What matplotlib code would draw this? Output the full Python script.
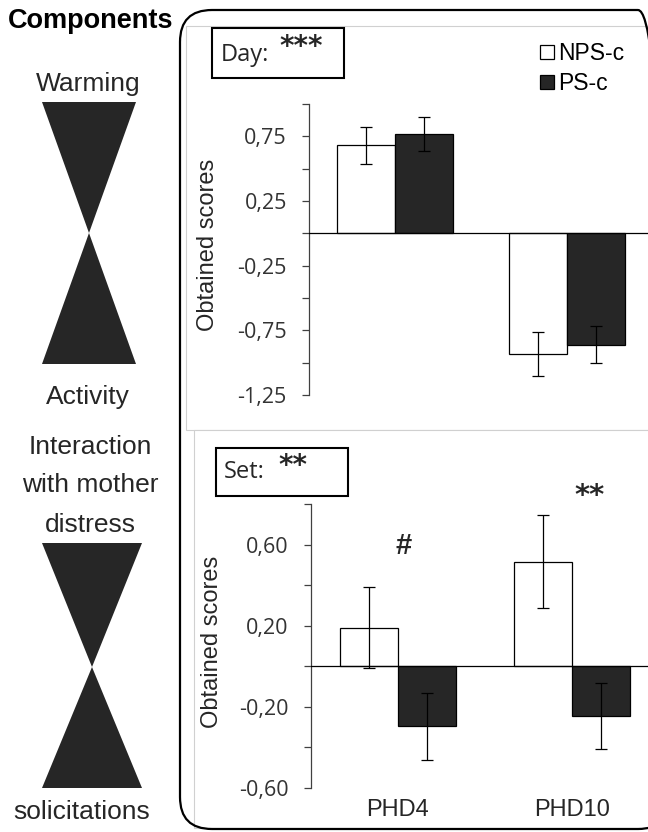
import numpy as np
import matplotlib
matplotlib.use("Agg")
import matplotlib.pyplot as plt
from matplotlib.patches import Rectangle, Polygon, FancyBboxPatch
from matplotlib.transforms import IdentityTransform

plt.rcParams["font.family"] = ["Liberation Sans", "DejaVu Sans"]

# ============================
# Data
# ============================
groups = ["PHD4", "PHD10"]
series_names = ["NPS-c", "PS-c"]

day_nps = [0.68, -0.93]
day_nps_err = [0.145, 0.17]
day_ps = [0.77, -0.86]
day_ps_err = [0.13, 0.14]

set_nps = [0.19, 0.515]
set_nps_err = [0.20, 0.23]
set_ps = [-0.295, -0.245]
set_ps_err = [0.165, 0.165]

day_ticks = [-1.25, -0.75, -0.25, 0.25, 0.75]
day_minor = [-1.0, -0.5, 0.0, 0.5, 1.0]
set_ticks = [-0.6, -0.2, 0.2, 0.6]
set_minor = [-0.4, 0.0, 0.4, 0.8]

W, H = 648, 832
DARK = "#262626"
TXT = "#333333"
TICKFONT = ["Open Sans", "DejaVu Sans"]

fig = plt.figure(figsize=(W / 100, H / 100), dpi=100)


def fx(x):
    return x / W


def fy(y):
    return 1 - y / H


def px(x, y):
    # pixel coords measured from top-left -> display coords
    return (x, H - y)


# ============================
# Frames (rounded border + chart areas)
# ============================
fig.add_artist(Rectangle(px(186, 430), 600, 404, transform=IdentityTransform(),
                         facecolor="white", edgecolor="#d0d0d0", lw=0.8, zorder=0))
fig.add_artist(Rectangle(px(194, 828), 600, 398, transform=IdentityTransform(),
                         facecolor="white", edgecolor="#d0d0d0", lw=0.8, zorder=0.5))
fig.add_artist(FancyBboxPatch(px(180, 829), 490, 819,
                              boxstyle="round,pad=0,rounding_size=32",
                              transform=IdentityTransform(), facecolor="none",
                              edgecolor="black", lw=1.6, zorder=5))


def draw_panel(ax, nps, nps_err, ps, ps_err, ticks, minor, ylim, xlim):
    x = np.arange(len(groups))
    w = 0.335
    b1 = ax.bar(x - w / 2, nps, w, color="white", edgecolor="black", lw=0.9,
                label=series_names[0], zorder=2)
    b2 = ax.bar(x + w / 2, ps, w, color=DARK, edgecolor="black", lw=0.9,
                label=series_names[1], zorder=2)
    ax.errorbar(x - w / 2, nps, yerr=nps_err, fmt="none", ecolor="black",
                elinewidth=0.9, capsize=4, capthick=0.9, zorder=3)
    ax.errorbar(x + w / 2, ps, yerr=ps_err, fmt="none", ecolor="black",
                elinewidth=0.9, capsize=4, capthick=0.9, zorder=3)
    ax.axhline(0, color="black", lw=0.9, zorder=4)
    ax.set_ylim(*ylim)
    ax.set_xlim(*xlim)
    for s in ["top", "right", "bottom"]:
        ax.spines[s].set_visible(False)
    ax.spines["left"].set_color("#404040")
    ax.spines["left"].set_linewidth(0.9)
    ax.set_yticks(ticks)
    ax.set_yticklabels([f"{t:.2f}".replace(".", ",") for t in ticks],
                       family=TICKFONT, fontsize=15.5, color=TXT)
    ax.set_yticks(minor, minor=True)
    ax.tick_params(axis="y", which="both", direction="out", length=5,
                   width=0.9, color="#404040", pad=11)
    ax.patch.set_alpha(0)
    return b1, b2


# ============================
# Top panel (Day)
# ============================
ax1 = fig.add_axes([fx(309), fy(395), fx(648 - 309), (395 - 104) / H])
ax1.set_zorder(2)
b1, b2 = draw_panel(ax1, day_nps, day_nps_err, day_ps, day_ps_err,
                    day_ticks, day_minor, (-1.25, 1.0), (-0.5, 1.47))
ax1.set_xticks([])
ax1.set_ylabel("Obtained scores", fontsize=17, color=DARK)
ax1.yaxis.set_label_coords((208 - 309) / 339, 0.515)
ax1.yaxis.label.set_verticalalignment("center")

# ============================
# Bottom panel (Set)
# ============================
ax2 = fig.add_axes([fx(311), fy(788), fx(648 - 311), (788 - 504) / H])
ax2.set_zorder(2)
draw_panel(ax2, set_nps, set_nps_err, set_ps, set_ps_err,
           set_ticks, set_minor, (-0.6, 0.8), (-0.5, 1.437))
ax2.set_xticks(np.arange(len(groups)))
ax2.set_xticklabels(groups, fontsize=17, color=DARK)
ax2.tick_params(axis="x", length=0, pad=8)
ax2.set_ylabel("Obtained scores", fontsize=17, color=DARK)
ax2.yaxis.set_label_coords((212 - 311) / 337, 0.514)
ax2.yaxis.label.set_verticalalignment("center")

ax2.text(0.03, 0.595, "#", ha="center", va="center", fontsize=21,
         fontweight="bold", color=DARK, clip_on=False)
ax2.text(1.1, 0.84, "**", ha="center", va="center", fontsize=21,
         fontweight="bold", family="DejaVu Sans", color=DARK, clip_on=False)

# Legend
fig.legend(handles=[b1, b2], labels=series_names, loc="upper left",
           bbox_to_anchor=(fx(540), fy(42)), frameon=False, fontsize=16.5,
           handlelength=0.6, handleheight=0.6, handletextpad=0.2,
           labelspacing=0.3, borderaxespad=0, borderpad=0)

# Day / Set boxes
fig.add_artist(Rectangle(px(212, 78), 132, 50, transform=IdentityTransform(),
                         facecolor="white", edgecolor="black", lw=1.5, zorder=6))
fig.text(fx(221), fy(55), "Day:", family=TICKFONT, fontsize=17, color=DARK,
         va="center", ha="left", zorder=7)
fig.text(fx(279), fy(47), "***", family="DejaVu Sans", fontweight="bold",
         fontsize=20, color=DARK, va="center", ha="left", zorder=7)

fig.add_artist(Rectangle(px(216, 496), 132, 48, transform=IdentityTransform(),
                         facecolor="white", edgecolor="black", lw=1.5, zorder=6))
fig.text(fx(224), fy(472), "Set:", family=TICKFONT, fontsize=17, color=DARK,
         va="center", ha="left", zorder=7)
fig.text(fx(278), fy(466), "**", family="DejaVu Sans", fontweight="bold",
         fontsize=20, color=DARK, va="center", ha="left", zorder=7)

# ============================
# Left panel: components
# ============================
fig.text(fx(91), fy(21), "Components", fontsize=19.5, fontweight="bold",
         color="black", ha="center", va="center")
left_labels = [("Warming", 88, 84), ("Activity", 88, 397),
               ("Interaction", 90, 447), ("with mother", 90, 485),
               ("distress", 90, 525), ("solicitations", 82, 812)]
for txt, x, y in left_labels:
    fig.text(fx(x), fy(y), txt, fontsize=19, color=DARK,
             ha="center", va="center")

hourglasses = [(42, 136, 102, 233, 364), (42, 142, 543, 667, 788)]
for xl, xr, yt, ym, yb in hourglasses:
    xm = (xl + xr) / 2
    for ybase in (yt, yb):
        fig.add_artist(Polygon([px(xl, ybase), px(xr, ybase), px(xm, ym)],
                               closed=True, transform=IdentityTransform(),
                               facecolor=DARK, edgecolor="none"))

fig.savefig("out.png", dpi=100, facecolor="white")
